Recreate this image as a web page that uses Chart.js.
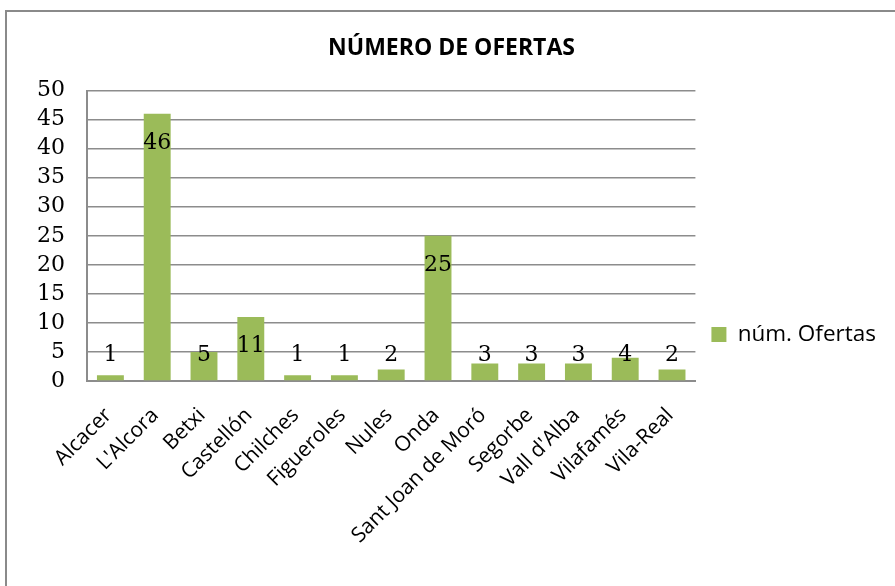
<!DOCTYPE html>
<html>
<head>
<meta charset="utf-8">
<script src="https://cdn.jsdelivr.net/npm/chart.js@4.4.0/dist/chart.umd.min.js"></script>
<style>
  html, body { margin: 0; padding: 0; background: #fff; overflow: hidden; }
  #wrap {
    position: absolute; left: 5px; top: 10px;
    width: 900px; height: 645px;
    border: 2px solid #8a8a8a;
    background: #fff;
  }
</style>
</head>
<body>
<div id="wrap"><canvas id="chart" width="900" height="645"></canvas></div>
<script>
// data
const categories = [
  'Alcacer', "L'Alcora", 'Betxi', 'Castellón', 'Chilches', 'Figueroles', 'Nules',
  'Onda', 'Sant Joan de Moró', 'Segorbe', "Vall d'Alba", 'Vilafamés', 'Vila-Real'
];
const ofertas = [1, 46, 5, 11, 1, 1, 2, 25, 3, 3, 3, 4, 2];
const yTicks = [0, 5, 10, 15, 20, 25, 30, 35, 40, 45, 50];

const chartTitle = 'NÚMERO DE OFERTAS';
const seriesName = 'núm. Ofertas';

const GREEN = '#9bbb59';
const GRID = '#8c8c8c';
const SANS = "'Open Sans', 'Liberation Sans', sans-serif";
const SERIF = "'DejaVu Serif', 'Liberation Serif', serif";

// value labels: inside end of the bar, pushed up when the bar is too short
const valueLabels = {
  id: 'valueLabels',
  afterDatasetsDraw(chart) {
    const ctx = chart.ctx;
    const meta = chart.getDatasetMeta(0);
    ctx.save();
    ctx.font = `22px ${SERIF}`;
    ctx.fillStyle = '#000';
    ctx.textAlign = 'center';
    ctx.textBaseline = 'middle';
    meta.data.forEach((bar, i) => {
      const y = Math.min(bar.y + 29, bar.base - 25);
      ctx.fillText(String(ofertas[i]), bar.x, y);
    });
    ctx.restore();
  }
};

new Chart(document.getElementById('chart'), {
  type: 'bar',
  data: {
    labels: categories,
    datasets: [{
      label: seriesName,
      data: ofertas,
      backgroundColor: GREEN,
      borderWidth: 0,
      barPercentage: 0.575,
      categoryPercentage: 1
    }]
  },
  options: {
    responsive: false,
    animation: false,
    layout: { padding: { left: 10, right: 21, top: 0, bottom: 0 } },
    plugins: {
      title: {
        display: true,
        text: chartTitle,
        color: '#000',
        font: { family: SANS, size: 23, weight: 'bold' },
        padding: { top: 23, bottom: 28 }
      },
      legend: {
        position: 'right',
        labels: {
          color: '#000',
          font: { family: SANS, size: 22.5 },
          boxWidth: 15,
          boxHeight: 15,
          padding: 16
        }
      },
      tooltip: { enabled: false }
    },
    scales: {
      x: {
        grid: { display: false, drawTicks: false },
        border: { color: GRID, width: 2 },
        ticks: {
          color: '#000',
          font: { family: SANS, size: 21 },
          minRotation: 45,
          maxRotation: 45,
          autoSkip: false,
          labelOffset: -2,
          padding: 22
        },
        afterFit(scale) { scale.height = 276; }
      },
      y: {
        min: 0,
        max: 50,
        afterBuildTicks(scale) { scale.ticks = yTicks.map(v => ({ value: v })); },
        grid: { color: GRID, lineWidth: 1.5, drawTicks: false },
        border: { color: GRID, width: 2 },
        ticks: {
          color: '#000',
          font: { family: SERIF, size: 22 },
          autoSkip: false,
          padding: 22
        },
        afterFit(scale) { scale.width = 70; }
      }
    }
  },
  plugins: [valueLabels]
});
</script>
</body>
</html>
